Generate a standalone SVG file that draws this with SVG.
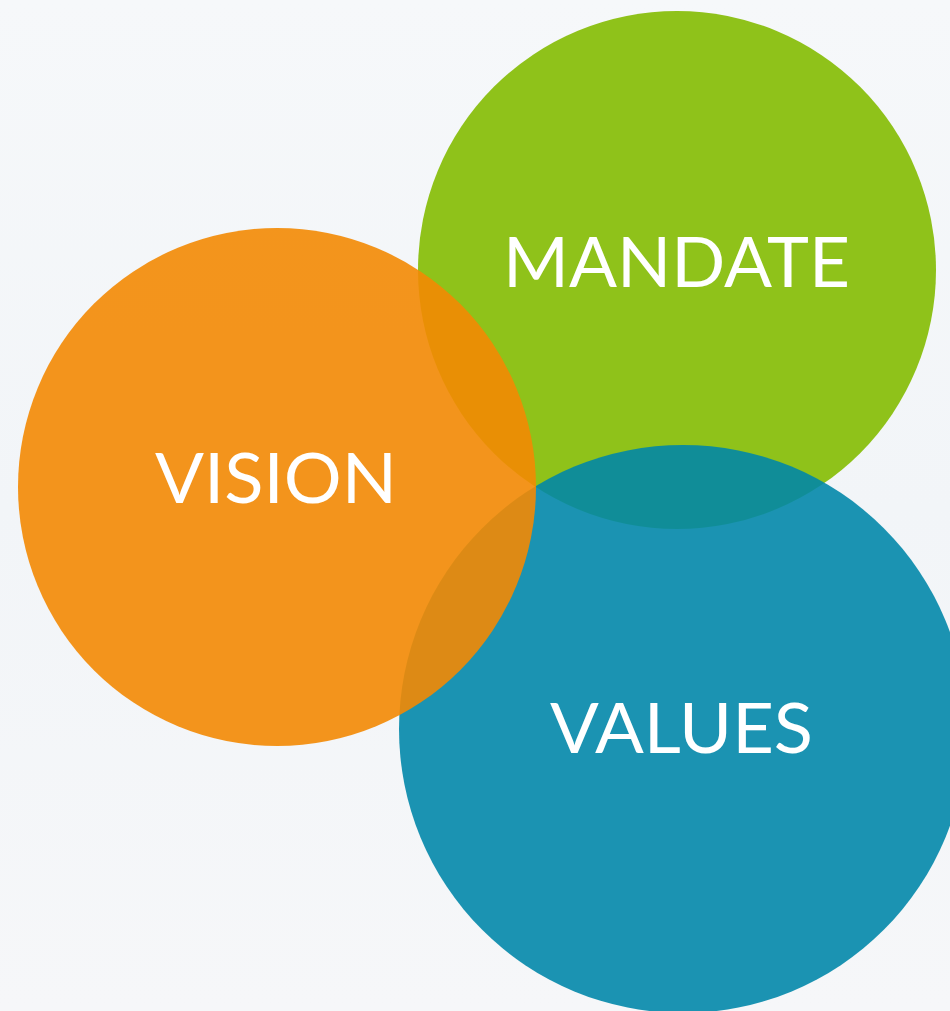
<svg xmlns="http://www.w3.org/2000/svg" width="950" height="1011" viewBox="0 0 950 1011">
  <defs>
    <linearGradient id="bg" x1="0" y1="0" x2="0" y2="1">
      <stop offset="0" stop-color="#f6f8fa"/>
      <stop offset="0.5" stop-color="#f2f5f8"/>
      <stop offset="1" stop-color="#f6f7f9"/>
    </linearGradient>
    <style>
      .lbl { font-family: Lato, "Open Sans", "Liberation Sans", sans-serif; font-size: 70px; fill: #ffffff; text-anchor: middle; }
    </style>
  </defs>
  <rect x="0" y="0" width="950" height="1011" fill="url(#bg)"/>
  <g id="mandate">
    <circle cx="677" cy="270" r="259" fill="#8fc21a"/>
  </g>
  <g id="values">
    <circle cx="683" cy="729" r="284" fill="#0087a9" fill-opacity="0.89"/>
  </g>
  <g id="vision">
    <circle cx="277" cy="487" r="259" fill="#f38903" fill-opacity="0.9"/>
  </g>
  <g id="labels">
    <text class="lbl" x="676.5" y="287" textLength="347" lengthAdjust="spacingAndGlyphs">MANDATE</text>
    <text class="lbl" x="276" y="503" textLength="242" lengthAdjust="spacingAndGlyphs">VISION</text>
    <text class="lbl" x="681.5" y="753" textLength="263" lengthAdjust="spacingAndGlyphs">VALUES</text>
  </g>
</svg>
